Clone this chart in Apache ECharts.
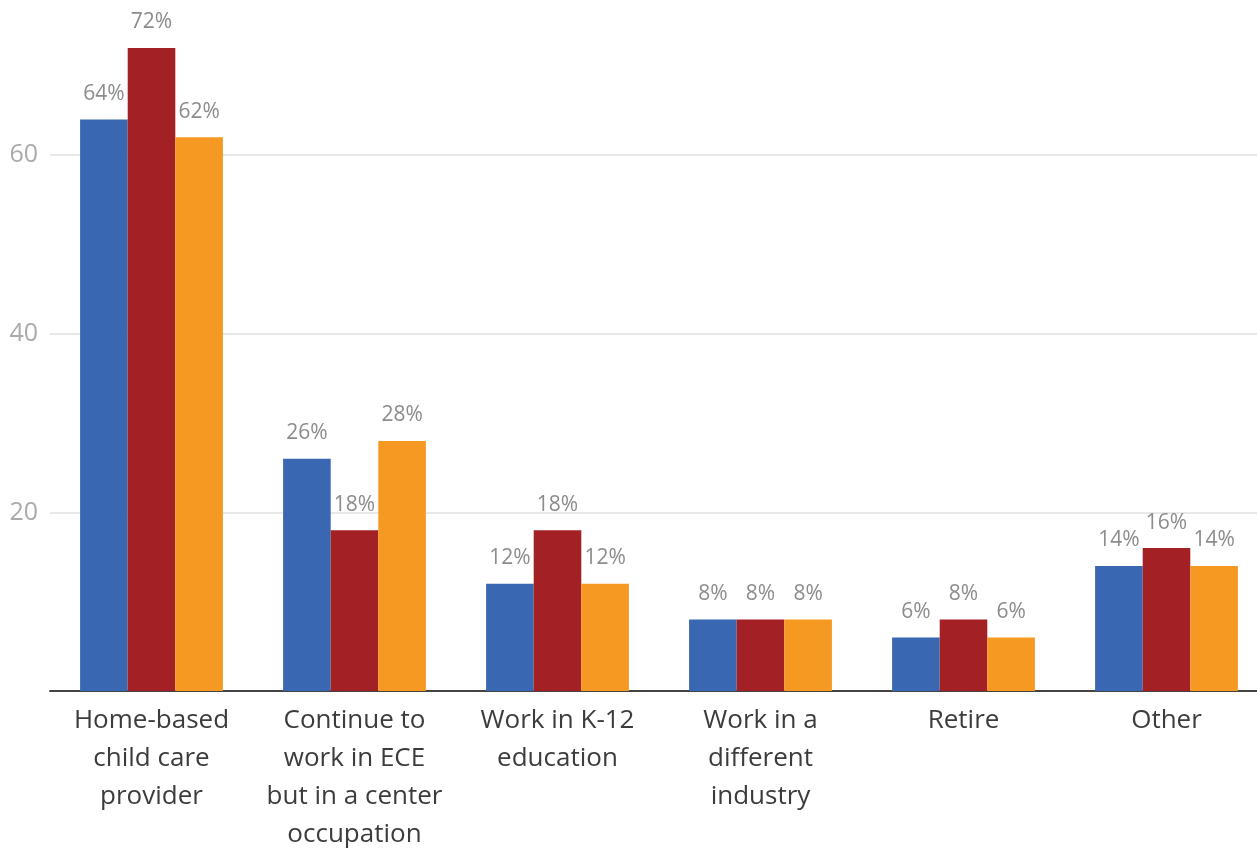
<!DOCTYPE html>
<html>
<head>
<meta charset="utf-8">
<style>
  html, body { margin: 0; padding: 0; background: #fff; }
  #chart { width: 1257px; height: 850px; }
</style>
<script src="https://cdn.jsdelivr.net/npm/echarts@6/dist/echarts.min.js"></script>
</head>
<body>
<div id="chart"></div>
<script>
// Planned next step after leaving the current job (percent of respondents)
const categories = [
  'Home-based\nchild care\nprovider',
  'Continue to\nwork in ECE\nbut in a center\noccupation',
  'Work in K-12\neducation',
  'Work in a\ndifferent\nindustry',
  'Retire',
  'Other'
];
const seriesNames = ['Group 1', 'Group 2', 'Group 3'];
const group1 = [64, 26, 12, 8, 6, 14];
const group2 = [72, 18, 18, 8, 8, 16];
const group3 = [62, 28, 12, 8, 6, 14];
const colors = ['#3967b1', '#a32124', '#f59922'];
const yTicks = [0, 20, 40, 60];

const chart = echarts.init(document.getElementById('chart'));
const FONT = '"Open Sans", "Noto Sans", sans-serif';

const series = [group1, group2, group3].map((vals, i) => ({
  name: seriesNames[i],
  type: 'bar',
  data: vals,
  barWidth: 47.6,
  barGap: '0%',
  itemStyle: { color: colors[i] },
  label: {
    show: true,
    position: 'top',
    distance: 15,
    formatter: p => p.value + '%',
    color: '#8c8c8c',
    fontFamily: FONT,
    fontWeight: 400,
    fontSize: 21
  }
}));

chart.setOption({
  animation: false,
  backgroundColor: '#ffffff',
  grid: {
    left: 50, right: -11, top: 48, bottom: 159,
    containLabel: false,
    outerBoundsMode: 'none'
  },
  xAxis: {
    type: 'category',
    data: categories,
    axisLine: { show: true, lineStyle: { color: '#444444', width: 2 } },
    axisTick: { show: false },
    axisLabel: {
      color: '#3c3c3c',
      fontFamily: FONT,
      fontWeight: 400,
      fontSize: 26,
      lineHeight: 38,
      margin: 11,
      interval: 0
    }
  },
  yAxis: {
    type: 'value',
    min: yTicks[0],
    max: 72,
    interval: yTicks[1] - yTicks[0],
    axisLine: { show: false },
    axisTick: { show: false },
    axisLabel: {
      color: '#aaaaaa',
      fontFamily: FONT,
      fontWeight: 400,
      fontSize: 25,
      margin: 12,
      showMinLabel: false,
      showMaxLabel: false
    },
    splitLine: {
      show: true,
      showMinLine: false,
      showMaxLine: false,
      lineStyle: { color: '#e8e8e8', width: 2 }
    }
  },
  series: series
});
</script>
</body>
</html>
